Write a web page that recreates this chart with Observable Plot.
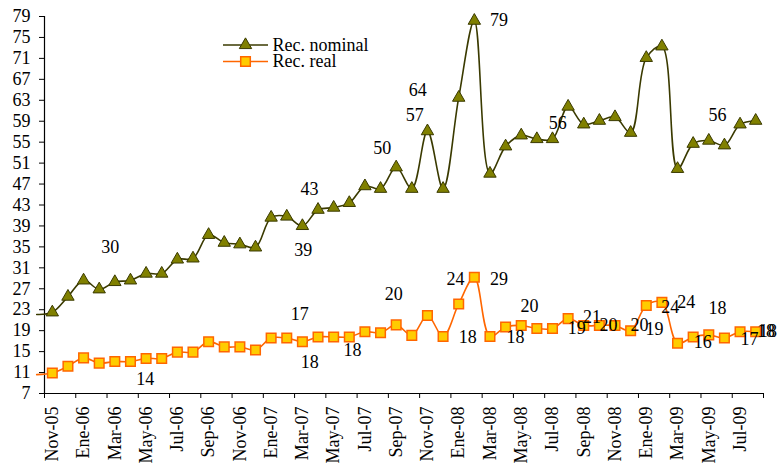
<!DOCTYPE html>
<html><head><meta charset="utf-8">
<script src="https://cdn.jsdelivr.net/npm/d3@7"></script>
<script src="https://cdn.jsdelivr.net/npm/@observablehq/plot@0.6"></script>
<style>
html,body{margin:0;padding:0;background:#fff;}
#chart{width:780px;height:468px;}
#chart svg, #chart svg text{font-family:"Liberation Serif","Times New Roman",Times,serif !important;}
</style>
</head><body><div id="chart"></div>
<script>
// Months (category axis), Nov-05 .. Ago-09
const months = ["Nov-05","Dic-05","Ene-06","Feb-06","Mar-06","Abr-06","May-06","Jun-06","Jul-06","Ago-06","Sep-06","Oct-06","Nov-06","Dic-06",
  "Ene-07","Feb-07","Mar-07","Abr-07","May-07","Jun-07","Jul-07","Ago-07","Sep-07","Oct-07","Nov-07","Dic-07",
  "Ene-08","Feb-08","Mar-08","Abr-08","May-08","Jun-08","Jul-08","Ago-08","Sep-08","Oct-08","Nov-08","Dic-08",
  "Ene-09","Feb-09","Mar-09","Abr-09","May-09","Jun-09","Jul-09","Ago-09"];

// Series values
const recNominal = [22.5,25.5,28.6,26.9,28.3,28.6,29.9,29.9,32.6,32.8,
  37.3,35.8,35.5,34.9,40.6,40.8,39.0,42.1,42.5,43.4,
  46.6,46.1,50.2,46.1,57.1,46.1,63.5,78.2,49.0,54.2,
  56.3,55.6,55.6,61.8,58.4,59.1,59.8,56.8,71.1,73.3,
  49.9,54.7,55.3,54.4,58.4,59.1];
const recReal = [10.9,12.2,13.8,12.8,13.1,13.1,13.7,13.7,14.9,14.9,
  16.9,15.9,15.9,15.3,17.6,17.6,16.9,17.8,17.8,17.8,
  18.8,18.6,20.1,18.1,21.9,17.9,24.1,29.2,17.9,19.7,
  20.0,19.4,19.4,21.3,20.0,20.0,20.0,19.0,23.8,24.4,
  16.6,17.8,18.2,17.6,18.8,18.8];
// value of the month before the first category (Oct-05), line enters from the left
const prevNominal = 22.1;
const prevReal = 10.6;

// Y tick labels
const yTicks = [7,11,15,19,23,27,31,35,39,43,47,51,55,59,63,67,71,75,79];

// Data labels (text, month position, value position)
const labelText = ["30","14","43","39","17","18","50","18","20","64","57","24","18","79","29","18","20","56","19","21","20","20","19","24","24","16","18","56","17","18","18"];
const labelPos  = [3.71,5.95,16.45,16.05,15.83,16.47,21.11,19.20,21.85,23.38,23.19,25.80,26.58,28.57,28.57,29.64,30.53,32.33,33.56,34.52,35.59,37.57,38.53,39.53,40.56,41.62,42.56,42.56,44.61,45.66,45.78];
const labelVal  = [34.9,9.8,46.0,34.4,22.2,12.9,53.9,15.3,26.0,65.0,60.1,28.9,17.75,78.2,28.9,17.7,23.7,58.6,19.4,21.5,20.0,20.0,19.2,23.5,24.4,16.8,23.2,60.1,17.45,18.9,18.9];

const seriesNames = ["Rec. nominal","Rec. real"];

// build tables
const nomData = [{i:-1, v:prevNominal}, ...recNominal.map((v,i)=>({i, v}))];
const realData = [{i:-1, v:prevReal}, ...recReal.map((v,i)=>({i, v}))];
const labels = labelText.map((t,k)=>({t, x:labelPos[k], y:labelVal[k]}));
const n = months.length;
const boundaryTicks = d3.range(-0.5, n, 2);
const labelTicks = d3.range(0, n, 2);

const font = "Liberation Serif";
const olive = "#808000", oliveDark = "#3a3a00", orange = "#ff6600", gold = "#ffcc00";

const chart = Plot.plot({
  width: 780, height: 468,
  marginLeft: 44, marginRight: 17, marginTop: 16, marginBottom: 75,
  style: {fontFamily: font, fontSize: "18px", background: "#fff", color: "#000", overflow: "visible"},
  x: {type: "linear", domain: [-0.5, n - 0.5], axis: null},
  y: {domain: [7, 79], axis: null},
  marks: [
    Plot.axisY({ticks: yTicks, tickSize: 5, tickPadding: 9, fontSize: 18, fontFamily: font, stroke: "#000"}),
    Plot.axisX({ticks: boundaryTicks, tickSize: 5, tickFormat: () => "", stroke: "#000"}),
    Plot.axisX({ticks: labelTicks, tickSize: 0, tickPadding: 13, tickRotate: -90, fontSize: 18, fontFamily: font, tickFormat: i => months[i]}),
    Plot.ruleY([7], {stroke: "#000", strokeWidth: 1.2}),
    Plot.ruleX([-0.5], {stroke: "#000", strokeWidth: 1.2}),
    Plot.line(nomData, {x: "i", y: "v", curve: "catmull-rom", stroke: oliveDark, strokeWidth: 1.6}),
    Plot.line(realData, {x: "i", y: "v", curve: "catmull-rom", stroke: orange, strokeWidth: 1.6}),
    Plot.dot(nomData.filter(d => d.i >= 0), {x: "i", y: "v", symbol: "triangle", r: 4.6, fill: olive, stroke: oliveDark, strokeWidth: 1}),
    Plot.dot(realData.filter(d => d.i >= 0), {x: "i", y: "v", symbol: "square", r: 5.4, fill: gold, stroke: orange, strokeWidth: 1.5}),
    Plot.text(labels, {x: "x", y: "y", text: "t", fontSize: 18, fontFamily: font, fill: "#000"})
  ]
});
document.getElementById("chart").appendChild(chart);

// legend inside the plot area
const svg = d3.select(chart);
const leg = svg.append("g").attr("font-family", font).attr("font-size", 18).attr("text-anchor", "start");
const legItems = [
  {name: seriesNames[0], y: 45, line: oliveDark, type: d3.symbolTriangle, size: 66, fill: olive, stroke: oliveDark, sw: 1},
  {name: seriesNames[1], y: 61.5, line: orange, type: d3.symbolSquare, size: 92, fill: gold, stroke: orange, sw: 1.5}
];
legItems.forEach(it => {
  leg.append("line").attr("x1", 223).attr("x2", 268).attr("y1", it.y).attr("y2", it.y)
    .attr("stroke", it.line).attr("stroke-width", 1.6);
  leg.append("path").attr("d", d3.symbol(it.type, it.size)()).attr("transform", `translate(245.5,${it.y})`)
    .attr("fill", it.fill).attr("stroke", it.stroke).attr("stroke-width", it.sw);
  leg.append("text").attr("x", 272.5).attr("y", it.y).attr("dy", "0.32em").attr("text-anchor", "start").attr("fill", "#000").text(it.name);
});
</script>
</body></html>
